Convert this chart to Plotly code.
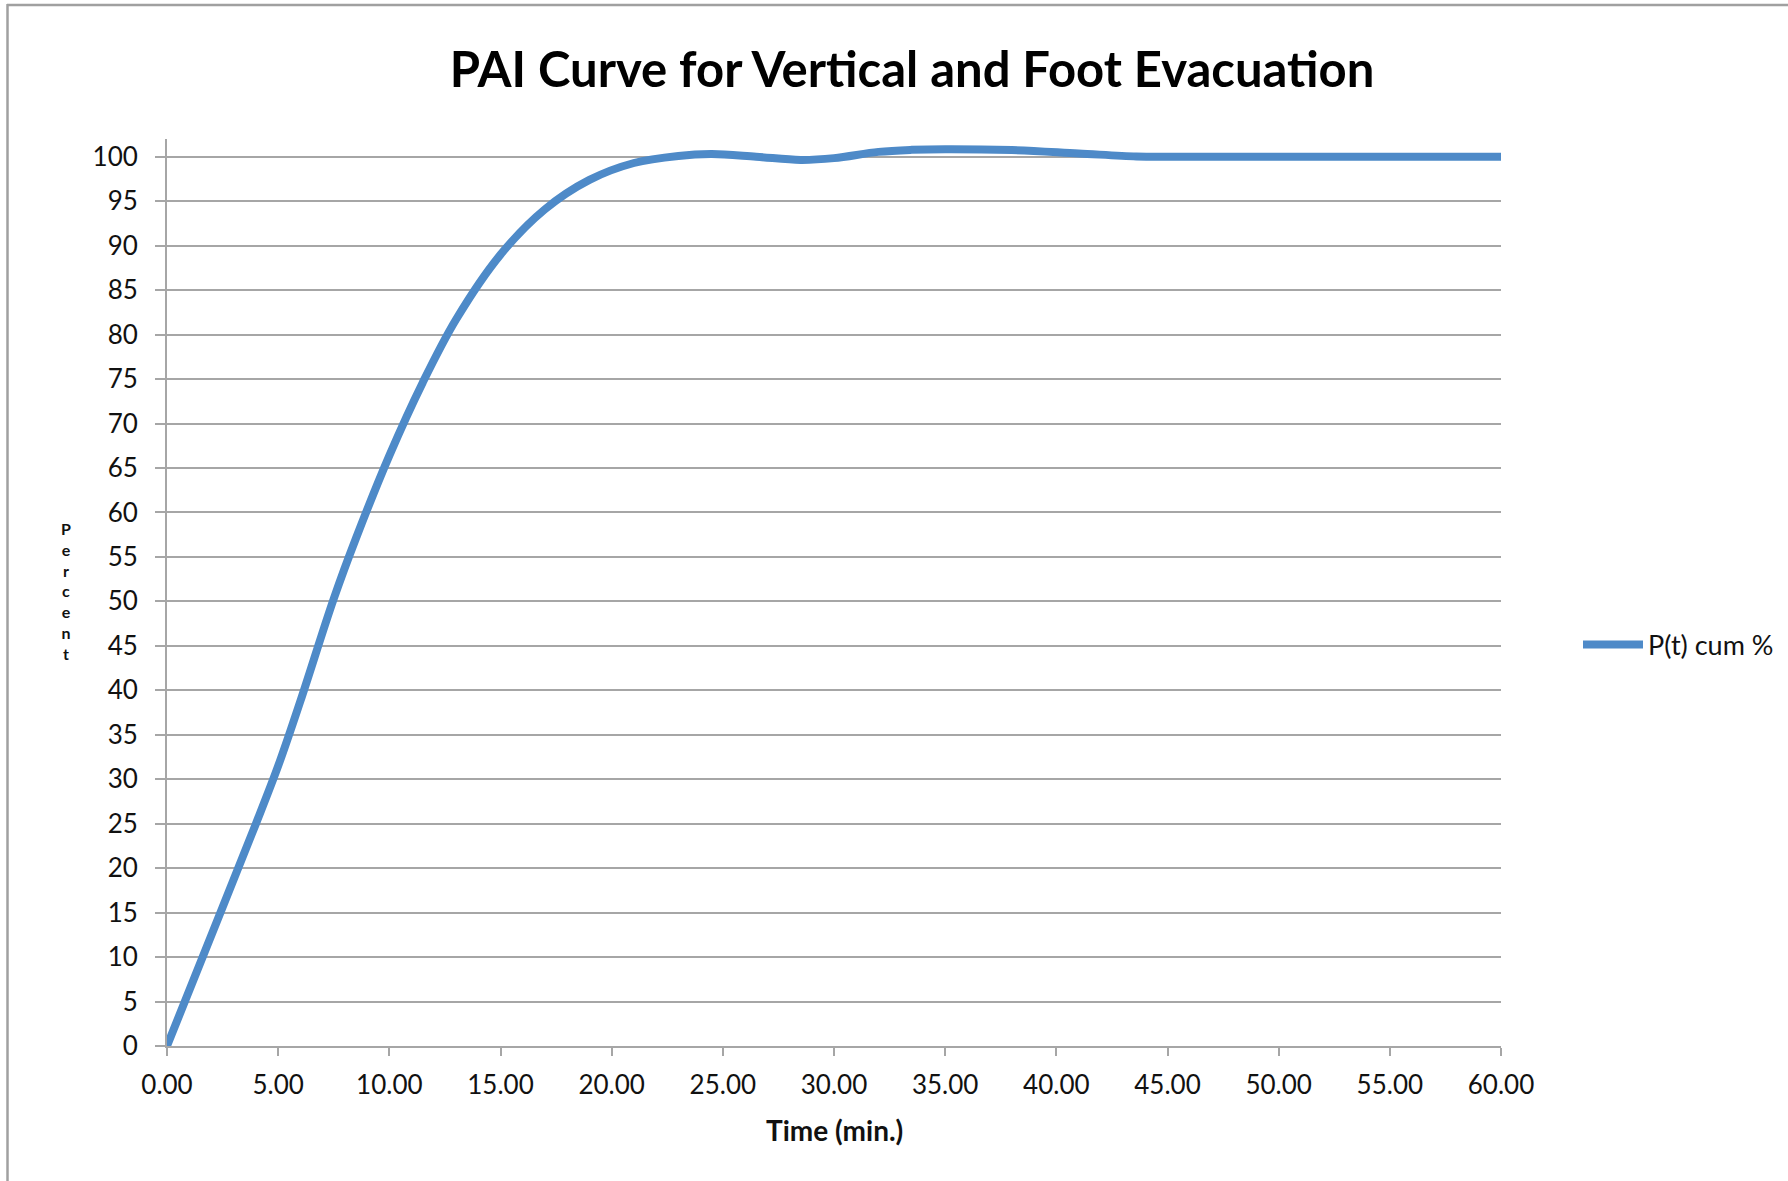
import plotly.graph_objects as go

# ---- data ----
time_min = [0, 2.5, 4, 5, 6, 7.5, 8.5, 10, 11.5, 13, 15, 17, 19, 21, 23, 24.5, 26.5, 28.5, 30,
            32, 33.5, 35, 38, 41, 43.6, 45, 50, 55, 60]
pct_cum = [0, 15.6, 25.0, 31.5, 38.8, 50.3, 57.1, 66.4, 74.6, 81.7, 89.0, 94.1, 97.4, 99.3, 100.1,
           100.3, 100.0, 99.65, 99.85, 100.55, 100.78, 100.86, 100.75, 100.37, 100.04, 100.0,
           100.0, 100.0, 100.0]
series_name = "P(t) cum %"
title_text = "PAI Curve for Vertical and Foot Evacuation"
x_title = "Time (min.)"
y_title = "Percent"
x_ticks = list(range(0, 61, 5))
y_ticks = list(range(0, 101, 5))

W, H = 1788, 1181
ML, MR, MT, MB = 167, 287, 139, 135
PW, PH = W - ML - MR, H - MT - MB


def px_to_paper_x(px):
    return (px - ML) / PW


def px_to_paper_y(py):
    return (H - MB - py) / PH


LINE_BLUE = "#4E8AC8"
GRID = "#A6A6A6"
FONT = "Lato"

fig = go.Figure()
fig.add_trace(go.Scatter(
    x=time_min, y=pct_cum, mode="lines", name=series_name,
    line=dict(color=LINE_BLUE, width=8, shape="spline", smoothing=1.0),
))

fig.update_layout(
    width=W, height=H,
    margin=dict(l=ML, r=MR, t=MT, b=MB, autoexpand=False),
    paper_bgcolor="white", plot_bgcolor="white",
    title=dict(text=f"<b>{title_text}</b>", x=912 / W, xref="container", xanchor="center",
               y=1 - 70 / H, yref="container", yanchor="middle",
               font=dict(family=FONT, size=49, color="#000000")),
    showlegend=True,
    legend=dict(x=px_to_paper_x(1578), y=px_to_paper_y(645), xanchor="left", yanchor="middle",
                font=dict(family=FONT, size=27, color="#111111"), bgcolor="rgba(0,0,0,0)",
                itemwidth=60, tracegroupgap=0),
    xaxis=dict(range=[0, 60], tickvals=x_ticks, tickformat=".2f",
               showgrid=False, zeroline=False,
               showline=True, linecolor=GRID, linewidth=2,
               ticks="outside", ticklen=8, tickwidth=2, tickcolor=GRID,
               tickfont=dict(family=FONT, size=26, color="#111111"),
               ticklabelstandoff=7),
    yaxis=dict(range=[0, 102], tickvals=y_ticks,
               showgrid=True, gridcolor=GRID, gridwidth=2, zeroline=False,
               showline=True, linecolor=GRID, linewidth=2,
               ticks="outside", ticklen=10, tickwidth=2, tickcolor=GRID,
               tickfont=dict(family=FONT, size=26, color="#111111"),
               ticklabelstandoff=12),
)

# axis titles
fig.add_annotation(text=f"<b>{x_title}</b>", x=px_to_paper_x(834), y=px_to_paper_y(1130),
                   xref="paper", yref="paper", showarrow=False, xanchor="center", yanchor="middle",
                   font=dict(family=FONT, size=28, color="#111111"))
fig.add_annotation(text="<br>".join(f"<b>{c}</b>" for c in y_title),
                   x=px_to_paper_x(66), y=px_to_paper_y(591),
                   xref="paper", yref="paper", showarrow=False, xanchor="center", yanchor="middle",
                   font=dict(family=FONT, size=16, color="#111111"))

# chart border (top and left edges visible in reference)
fig.add_shape(type="line", xref="paper", yref="paper",
              x0=px_to_paper_x(7), x1=px_to_paper_x(W + 5), y0=px_to_paper_y(5), y1=px_to_paper_y(5),
              line=dict(color="#A0A0A0", width=2.5))
fig.add_shape(type="line", xref="paper", yref="paper",
              x0=px_to_paper_x(7.5), x1=px_to_paper_x(7.5), y0=px_to_paper_y(4), y1=px_to_paper_y(H + 5),
              line=dict(color="#A0A0A0", width=2.5))

fig.write_html("out.html")
